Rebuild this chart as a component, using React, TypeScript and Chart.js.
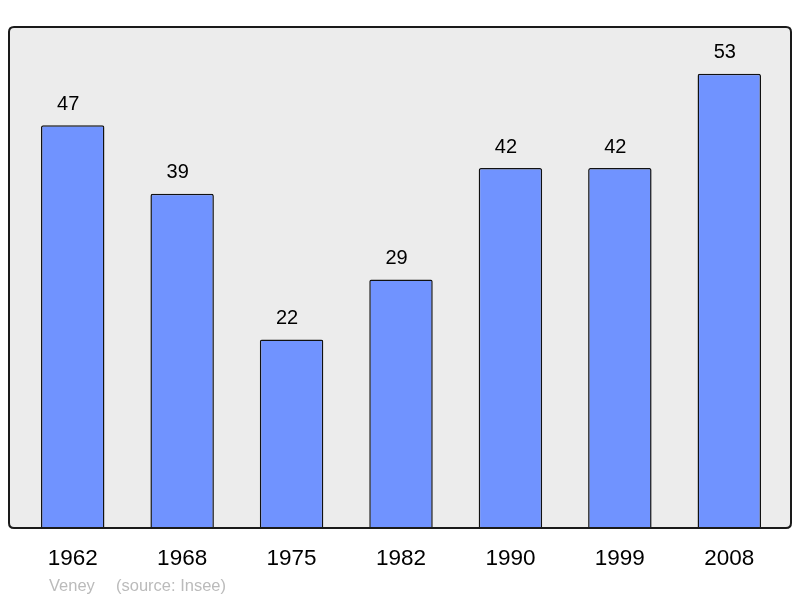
import React, { useEffect, useRef } from "react";
import { Chart, registerables } from "chart.js";

Chart.register(...registerables);

const categories = ["1962", "1968", "1975", "1982", "1990", "1999", "2008"];
const values = [47, 39, 22, 29, 42, 42, 53];
const footerName = "Veney";
const footerSource = "(source: Insee)";

const FONT = "'Liberation Sans', Arial, sans-serif";

function framePath(ctx: any, left: number, top: number, right: number, bottom: number, r: number) {
  ctx.beginPath();
  ctx.moveTo(left + r, top);
  ctx.lineTo(right - r, top);
  ctx.quadraticCurveTo(right, top, right, top + r);
  ctx.lineTo(right, bottom - r);
  ctx.quadraticCurveTo(right, bottom, right - r, bottom);
  ctx.lineTo(left + r, bottom);
  ctx.quadraticCurveTo(left, bottom, left, bottom - r);
  ctx.lineTo(left, top + r);
  ctx.quadraticCurveTo(left, top, left + r, top);
  ctx.closePath();
}

const framePlugin = {
  id: "frame",
  beforeDraw(chart: any) {
    const { ctx, chartArea } = chart;
    ctx.save();
    framePath(ctx, 9, chartArea.top, 791, chartArea.bottom, 5);
    ctx.fillStyle = "#ececec";
    ctx.fill();
    ctx.restore();
  },
  afterDatasetsDraw(chart: any) {
    const { ctx, chartArea } = chart;
    ctx.save();
    framePath(ctx, 9, chartArea.top, 791, chartArea.bottom, 5);
    ctx.lineWidth = 2;
    ctx.strokeStyle = "#1a1a1a";
    ctx.stroke();

    // value labels
    const meta = chart.getDatasetMeta(0);
    ctx.fillStyle = "#000";
    ctx.font = `20px ${FONT}`;
    ctx.textAlign = "center";
    ctx.textBaseline = "middle";
    meta.data.forEach((bar: any, i: number) => {
      ctx.fillText(String(values[i]), bar.x - 4.5, bar.y - 21);
    });

    // footer
    ctx.fillStyle = "#bbbbbb";
    ctx.font = `16.5px ${FONT}`;
    ctx.textAlign = "left";
    ctx.textBaseline = "middle";
    ctx.fillText(footerName, 49, 586);
    ctx.fillText(footerSource, 116, 586);
    ctx.restore();
  },
};

export default function App() {
  const ref = useRef<HTMLCanvasElement>(null);
  useEffect(() => {
    if (!ref.current) return;
    const chart = new Chart(ref.current, {
      type: "bar",
      data: {
        labels: categories,
        datasets: [
          {
            data: values,
            backgroundColor: "#7093ff",
            borderColor: "#111",
            borderWidth: 1.5,
            borderRadius: 2,
            borderSkipped: "bottom",
            categoryPercentage: 1,
            barPercentage: 0.58,
          },
        ],
      },
      options: {
        animation: false,
        responsive: false,
        maintainAspectRatio: false,
        layout: { padding: { left: 18, right: 16, top: 27, bottom: 0 } },
        plugins: { legend: { display: false }, tooltip: { enabled: false } },
        scales: {
          x: {
            grid: { display: false },
            border: { display: false },
            ticks: {
              color: "#000",
              font: { family: FONT, size: 22.5 },
              padding: 9,
              maxRotation: 0,
            },
            afterFit(scale: any) {
              scale.height = 70;
            },
          },
          y: {
            display: false,
            min: 0,
            max: 58.45,
          },
        },
      },
      plugins: [framePlugin],
    });
    return () => chart.destroy();
  }, []);
  return (
    <div style={{ position: "fixed", left: 0, top: 0, width: 800, height: 598, background: "#fff" }}>
      <canvas ref={ref} width={800} height={598} style={{ width: 800, height: 598, display: "block" }} />
    </div>
  );
}
